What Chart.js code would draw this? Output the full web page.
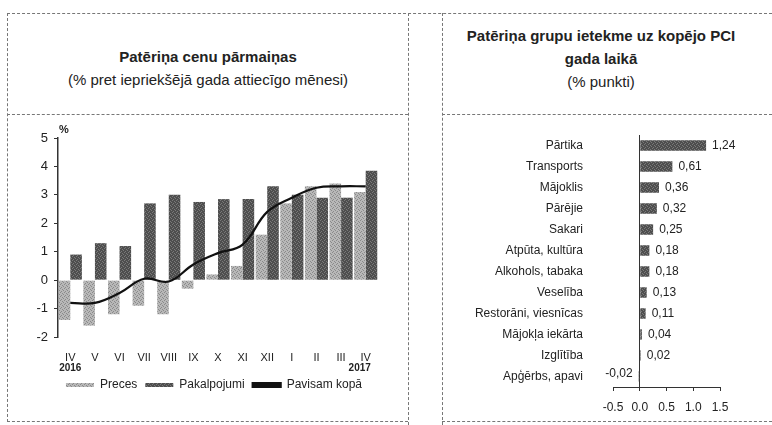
<!DOCTYPE html>
<html>
<head>
<meta charset="utf-8">
<script src="https://cdn.jsdelivr.net/npm/chart.js@4"></script>
<style>
  body { margin: 0; width: 772px; height: 425px; background: #fff; position: relative; overflow: hidden;
         font-family: "Liberation Sans", Arial, sans-serif; color: #222; }
  .ln { position: absolute; border-color: #777; border-style: dashed; border-width: 0; }
  .h { border-top-width: 1px; height: 0; }
  .v { border-left-width: 1px; width: 0; }
  .ttl { position: absolute; text-align: center; font-size: 15px; line-height: 23px; }
  canvas { position: absolute; }
</style>
</head>
<body>
<div class="ln h" style="left:7px; top:13px; width:765px"></div>
<div class="ln h" style="left:7px; top:114px; width:401px"></div>
<div class="ln h" style="left:442px; top:114px; width:330px"></div>
<div class="ln h" style="left:7px; top:421px; width:401px"></div>
<div class="ln h" style="left:442px; top:421px; width:330px"></div>
<div class="ln v" style="left:7px; top:13px; height:409px"></div>
<div class="ln v" style="left:408px; top:13px; height:412px"></div>
<div class="ln v" style="left:442px; top:13px; height:412px"></div>

<div class="ttl" style="left:8px; top:45px; width:400px">
  <b>Patēriņa cenu pārmaiņas</b><br>(% pret iepriekšējā gada attiecīgo mēnesi)
</div>
<div class="ttl" style="left:430px; top:24px; width:342px">
  <b>Patēriņa grupu ietekme uz kopējo PCI</b><br><b>gada laikā</b><br>(% punkti)
</div>

<canvas id="left" style="left:8px; top:116px; width:412px; height:304px" width="412" height="304"></canvas>
<canvas id="right" style="left:444px; top:116px; width:328px; height:304px" width="328" height="304"></canvas>

<script>
// left chart
const months = ['IV', 'V', 'VI', 'VII', 'VIII', 'IX', 'X', 'XI', 'XII', 'I', 'II', 'III', 'IV'];
const years = ['2016', '2017'];   // under first and last month
const preces = [-1.4, -1.6, -1.2, -0.9, -1.2, -0.3, 0.2, 0.5, 1.6, 2.7, 3.3, 3.4, 3.1];
const pakalpojumi = [0.9, 1.3, 1.2, 2.7, 3.0, 2.75, 2.85, 2.85, 3.3, 3.0, 2.9, 2.9, 3.85];
const pavisam = [-0.8, -0.8, -0.45, 0.05, -0.05, 0.55, 0.95, 1.25, 2.4, 2.9, 3.25, 3.3, 3.3];

// right chart
const groups = ['Pārtika', 'Transports', 'Mājoklis', 'Pārējie', 'Sakari', 'Atpūta, kultūra', 'Alkohols, tabaka',
  'Veselība', 'Restorāni, viesnīcas', 'Mājokļa iekārta', 'Izglītība', 'Apģērbs, apavi'];
const ietekme = [1.24, 0.61, 0.36, 0.32, 0.25, 0.18, 0.18, 0.13, 0.11, 0.04, 0.02, -0.02];

const FONT = '"Liberation Sans", Arial, sans-serif';
Chart.defaults.font.family = FONT;
Chart.defaults.color = '#222';

// speckled fill like the printed scan
function speckle(base, dot) {
  const c = document.createElement('canvas');
  c.width = 4; c.height = 4;
  const g = c.getContext('2d');
  g.fillStyle = base; g.fillRect(0, 0, 4, 4);
  g.fillStyle = dot;
  g.fillRect(0, 0, 1, 1); g.fillRect(2, 1, 1, 1); g.fillRect(1, 3, 1, 1); g.fillRect(3, 2, 1, 1);
  return g.createPattern(c, 'repeat');
}
const lightFill = speckle('#b8b8b8', '#8a8a8a');
const darkFill = speckle('#4e4e4e', '#7a7a7a');

// "%" above the y axis and the years under the first/last month
const leftExtras = {
  id: 'leftExtras',
  afterDraw(chart) {
    const x = chart.scales.x, y = chart.scales.y, ctx = chart.ctx;
    ctx.save();
    ctx.font = 'bold 11px ' + FONT;
    ctx.fillStyle = '#222';
    ctx.textAlign = 'left';
    ctx.fillText('%', y.right + 1, chart.chartArea.top - 8);
    ctx.font = 'bold 10px ' + FONT;
    ctx.textAlign = 'center';
    ctx.textBaseline = 'middle';
    const ty = chart.chartArea.bottom + 31;
    ctx.fillText(years[0], x.getPixelForValue(0), ty);
    ctx.fillText(years[1], x.getPixelForValue(months.length - 1) - 6, ty);
    ctx.restore();
  }
};

const legendOrder = ['Preces', 'Pakalpojumi', 'Pavisam kopā'];

new Chart(document.getElementById('left'), {
  data: {
    labels: months,
    datasets: [
      { type: 'line', label: 'Pavisam kopā', data: pavisam, borderColor: '#111', backgroundColor: '#111',
        borderWidth: 2.2, pointRadius: 0, tension: 0.4, order: 0 },
      { type: 'bar', label: 'Preces', data: preces, backgroundColor: lightFill, order: 1 },
      { type: 'bar', label: 'Pakalpojumi', data: pakalpojumi, backgroundColor: darkFill, order: 2 }
    ]
  },
  options: {
    responsive: false,
    animation: false,
    layout: { padding: { top: 22, right: 0, left: 0, bottom: 19 } },
    datasets: { bar: { categoryPercentage: 0.94, barPercentage: 1.0 } },
    plugins: {
      tooltip: { enabled: false },
      legend: {
        position: 'bottom',
        labels: {
          boxWidth: 28, boxHeight: 4, padding: 8, font: { size: 12 },
          sort: (a, b) => legendOrder.indexOf(a.text) - legendOrder.indexOf(b.text)
        }
      }
    },
    scales: {
      x: {
        offset: true,
        grid: { display: false },
        border: { display: false },
        ticks: { font: { size: 11 }, padding: 6, maxRotation: 0, autoSkip: false },
        afterFit(s) { s.height = 34; }
      },
      y: {
        min: -2, max: 5,
        ticks: { stepSize: 1, font: { size: 13 }, padding: 6 },
        grid: { drawOnChartArea: false, tickLength: 4, color: '#333' },
        border: { display: true, color: '#333', width: 1.5 },
        afterFit(s) { s.width = 50; }
      },
      // empty spacer on the right, keeps the legend centred on the panel
      spacer: {
        type: 'linear', position: 'right',
        grid: { display: false }, border: { display: false }, ticks: { display: false },
        afterFit(s) { s.width = 42; }
      }
    }
  },
  plugins: [leftExtras]
});

const valueLabels = {
  id: 'valueLabels',
  afterDatasetsDraw(chart) {
    const ctx = chart.ctx;
    const meta = chart.getDatasetMeta(0);
    ctx.save();
    ctx.font = '12px ' + FONT;
    ctx.fillStyle = '#222';
    ctx.textBaseline = 'middle';
    meta.data.forEach((bar, i) => {
      const v = ietekme[i];
      const txt = v.toFixed(2).replace('.', ',');
      if (v < 0) {
        ctx.textAlign = 'right';
        ctx.fillText(txt, bar.x - 6, bar.y - 3);
      } else {
        ctx.textAlign = 'left';
        ctx.fillText(txt, bar.x + 6, bar.y);
      }
    });
    ctx.restore();
  }
};

new Chart(document.getElementById('right'), {
  type: 'bar',
  data: {
    labels: groups,
    datasets: [{ label: 'ietekme', data: ietekme, backgroundColor: darkFill, categoryPercentage: 1.0, barPercentage: 0.5 }]
  },
  options: {
    indexAxis: 'y',
    responsive: false,
    animation: false,
    layout: { padding: { top: 19, right: 52, left: 0, bottom: 3 } },
    plugins: { legend: { display: false }, tooltip: { enabled: false } },
    scales: {
      x: {
        min: -0.5, max: 1.5,
        ticks: { stepSize: 0.5, font: { size: 12 }, padding: 9, callback: v => Number(v).toFixed(1) },
        grid: { color: c => c.tick && c.tick.value === 0 ? '#333' : 'rgba(0,0,0,0)', tickColor: '#333', tickLength: 4 },
        border: { display: true, color: '#333' },
        afterFit(s) { s.height = 30; }
      },
      y: {
        grid: { display: false },
        border: { display: false },
        ticks: { font: { size: 12 }, padding: 22, autoSkip: false },
        afterFit(s) { s.width = 169; s.paddingTop = 0; s.paddingBottom = 0; }
      }
    }
  },
  plugins: [valueLabels]
});
</script>
</body>
</html>
